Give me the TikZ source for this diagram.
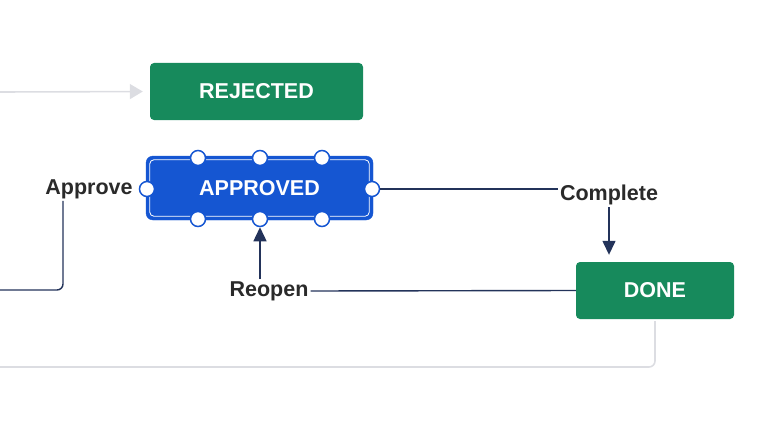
\documentclass[tikz,border=0pt]{standalone}
\usepackage{fontspec}
\setmainfont{Liberation Sans}
\usetikzlibrary{arrows.meta,calc}
\definecolor{stgreen}{HTML}{178A5C}
\definecolor{stblue}{HTML}{1556D2}
\definecolor{navy}{HTML}{23335A}
\definecolor{lgray}{HTML}{DCDDE2}
\definecolor{txt}{HTML}{2A2A2A}
\tikzset{
  status/.style={fill=stgreen, rounded corners=4pt, text=white, font=\fontsize{21.5}{24}\selectfont\bfseries, inner sep=0pt},
  trans/.style={text=txt, font=\fontsize{21.5}{24}\selectfont\bfseries, inner sep=2pt},
  darkline/.style={draw=navy, line width=1.4pt},
  grayline/.style={draw=lgray, line width=1.6pt},
  handle/.style={circle, fill=white, draw=stblue, line width=1.5pt, minimum size=15pt, inner sep=0pt},
  darrow/.style={-{Triangle[length=14pt,width=13pt]}},
  garrow/.style={-{Triangle[length=13pt,width=15pt]}}
}
\begin{document}
\begin{tikzpicture}[x=1pt,y=-1pt]
\useasboundingbox (0,0) rectangle (760,428);
% statuses
\node[status, minimum width=213pt, minimum height=57pt] (rej) at (256.5,91.5) {REJECTED};
\node[status, minimum width=158pt, minimum height=57pt] (done) at (655,290.5) {DONE};
\node[fill=stblue, draw=stblue, rounded corners=7pt, minimum width=227pt, minimum height=64pt, inner sep=0pt, text=white, font=\fontsize{21.5}{24}\selectfont\bfseries] (app) at (259.5,188) {APPROVED};
\draw[white, line width=0.8pt, rounded corners=4pt] ($(app.south west)+(4,-4)$) rectangle ($(app.north east)+(-4,4)$);
% handles
\node[handle] (ht1) at (198,158) {};
\node[handle] (ht2) at (260,158) {};
\node[handle] (ht3) at (322,158) {};
\node[handle] (hb1) at (198,219) {};
\node[handle] (hb2) at (260,219) {};
\node[handle] (hb3) at (322,219) {};
\node[handle] (hl) at (147,189) {};
\node[handle] (hr) at (372,189) {};
% transitions
\node[trans] (approve) at (89,189) {Approve};
\node[trans] (complete) at (609,195) {Complete};
\node[trans] (reopen) at (269,291) {Reopen};
% free ends
\coordinate (gin) at (0,92);
\coordinate (lin) at (0,290);
\coordinate (gout) at (0,367);
% connectors
\draw[grayline, garrow, shorten >=7pt] (gin) -- (rej.west);
\draw[darkline, rounded corners=6pt] ($(approve.south)+(-26,0)$) |- (lin);
\draw[darkline] (hr.east) -- (hr.east -| complete.west);
\draw[darkline, darrow, shorten >=7pt] (complete.south) -- (complete.south |- done.north);
\draw[darkline] (reopen.east) -- (done.west);
\draw[darkline, darrow] (reopen.north -| hb2) -- (hb2.south);
\draw[grayline, rounded corners=6pt] ($(done.south)+(0,2)$) |- (gout);
\end{tikzpicture}
\end{document}
